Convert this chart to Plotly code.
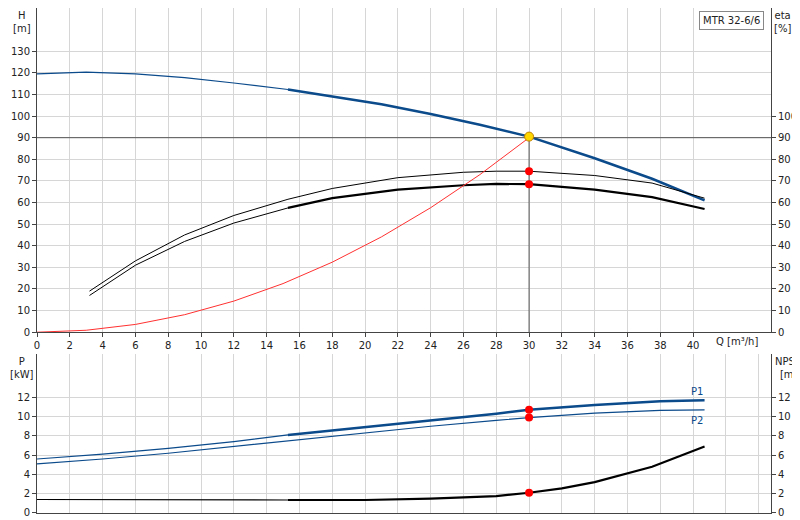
import plotly.graph_objects as go

# head curve
q_h = [0, 3, 6, 9, 12, 15.3, 18, 21, 24, 27, 30, 34, 37.5, 40.7]
head = [119.5, 120.3, 119.5, 117.8, 115.3, 112.3, 109, 105.5, 101, 96, 90.5, 80.5, 71, 61]
# efficiency curves
q_eta = [3.2, 6, 9, 12, 15.3, 18, 22, 26, 28, 30, 34, 37.5, 40.7]
eta_pump = [19, 33, 45, 54, 61.5, 66.5, 71.5, 74, 74.5, 74.5, 72.5, 69, 62]
eta_total = [17, 31, 42, 50.5, 57.5, 62, 66, 68, 68.6, 68.5, 66, 62.5, 57]
# system curve
q_sys = [0, 3, 6, 9, 12, 15, 18, 21, 24, 27, 30]
h_sys = [0, 0.9, 3.6, 8.1, 14.4, 22.5, 32.4, 44.1, 57.6, 72.9, 90]
# power and NPSH
q_p = [0, 4, 8, 12, 15.3, 20, 24, 28, 30, 34, 38, 40.7]
p1 = [5.6, 6.1, 6.7, 7.4, 8.1, 8.9, 9.6, 10.3, 10.7, 11.2, 11.6, 11.7]
p2 = [5.1, 5.6, 6.2, 6.9, 7.5, 8.3, 9.0, 9.6, 9.9, 10.35, 10.65, 10.7]
q_npsh = [0, 15.3, 20, 24, 28, 30, 32, 34, 37.5, 40.7]
npsh = [1.4, 1.35, 1.35, 1.5, 1.75, 2.1, 2.55, 3.2, 4.8, 6.9]
duty_q, duty_h = 30, 90.5

blue = "#0b4a8b"
fig = go.Figure()
fig.add_trace(go.Scatter(x=q_h[:6], y=head[:6], mode="lines", line=dict(color=blue, width=1.2)))
fig.add_trace(go.Scatter(x=q_h[5:], y=head[5:], mode="lines", line=dict(color=blue, width=2.5)))
fig.add_trace(go.Scatter(x=q_eta, y=eta_pump, mode="lines", line=dict(color="black", width=1)))
fig.add_trace(go.Scatter(x=q_eta[:5], y=eta_total[:5], mode="lines", line=dict(color="black", width=1)))
fig.add_trace(go.Scatter(x=q_eta[4:], y=eta_total[4:], mode="lines", line=dict(color="black", width=2.2)))
fig.add_trace(go.Scatter(x=q_sys, y=h_sys, mode="lines", line=dict(color="#ff3030", width=1)))
fig.add_trace(go.Scatter(x=[0, 44.75], y=[90, 90], mode="lines", line=dict(color="#555", width=1)))
fig.add_trace(go.Scatter(x=[duty_q, duty_q], y=[0, 90], mode="lines", line=dict(color="#555", width=1)))
fig.add_trace(go.Scatter(x=[duty_q, duty_q], y=[74.5, 68.5], mode="markers",
                         marker=dict(color="red", size=8)))
fig.add_trace(go.Scatter(x=[duty_q], y=[duty_h], mode="markers",
                         marker=dict(color="#ffd700", size=9, line=dict(color="#c08000", width=1))))

fig.add_trace(go.Scatter(x=q_p[:5], y=p1[:5], mode="lines", line=dict(color=blue, width=1.2), xaxis="x2", yaxis="y2"))
fig.add_trace(go.Scatter(x=q_p[4:], y=p1[4:], mode="lines", line=dict(color=blue, width=2.5), xaxis="x2", yaxis="y2"))
fig.add_trace(go.Scatter(x=q_p, y=p2, mode="lines", line=dict(color=blue, width=1.2), xaxis="x2", yaxis="y2"))
fig.add_trace(go.Scatter(x=q_npsh[:2], y=npsh[:2], mode="lines", line=dict(color="black", width=1.2), xaxis="x2", yaxis="y2"))
fig.add_trace(go.Scatter(x=q_npsh[1:], y=npsh[1:], mode="lines", line=dict(color="black", width=2.2), xaxis="x2", yaxis="y2"))
fig.add_trace(go.Scatter(x=[duty_q] * 3, y=[10.7, 9.9, 2.1], mode="markers",
                         marker=dict(color="red", size=8), xaxis="x2", yaxis="y2"))
# dummy traces for right axes
fig.add_trace(go.Scatter(x=[None], y=[None], yaxis="y3"))
fig.add_trace(go.Scatter(x=[None], y=[None], xaxis="x2", yaxis="y4"))

grid = dict(showgrid=True, gridcolor="#d6d6d6", gridwidth=1, showline=True, linecolor="#444",
            ticks="outside", ticklen=4, tickcolor="#444", zeroline=False, automargin=False)
right = dict(side="right", showline=True, linecolor="#444", ticks="outside", ticklen=4,
             showgrid=False, zeroline=False, automargin=False)
fig.update_layout(
    width=800, height=520, showlegend=False, plot_bgcolor="white", paper_bgcolor="white",
    margin=dict(l=29, r=37, t=0, b=15),
    font=dict(family="DejaVu Sans", size=10, color="#222"),
    xaxis=dict(domain=[0, 1], range=[0, 44.75], tickvals=list(range(0, 41, 2)), anchor="y", **grid),
    yaxis=dict(domain=[0.358, 1], range=[0, 150], tickvals=list(range(0, 140, 10)), **grid),
    yaxis3=dict(overlaying="y", range=[0, 150], tickvals=list(range(0, 110, 10)), anchor="x", **right),
    xaxis2=dict(domain=[0, 1], range=[0, 44.75], dtick=2, anchor="y2", showticklabels=False,
                showgrid=True, gridcolor="#d6d6d6", showline=True, linecolor="#444",
                zeroline=False, automargin=False),
    yaxis2=dict(domain=[0, 0.315], range=[0, 16.5], tickvals=list(range(0, 14, 2)), anchor="x2", **grid),
    yaxis4=dict(overlaying="y2", range=[0, 16.5], tickvals=list(range(0, 14, 2)), anchor="x2", **right),
)

labels = [
    (-0.02, 1.0, "H<br>[m]", "center"),
    (1.015, 1.0, "eta<br>[%]", "center"),
    (-0.02, 0.315, "P<br>[kW]", "center"),
    (1.045, 0.315, "NPSH<br>[m]", "right"),
]
for x, y, t, anchor in labels:
    fig.add_annotation(x=x, y=y, xref="paper", yref="paper", text=t, showarrow=False,
                       xanchor=anchor, yanchor="top")
fig.add_annotation(x=0.985, y=0.358, xref="paper", yref="paper", text="Q [m³/h]", showarrow=False,
                   xanchor="right", yanchor="top", yshift=-2)
fig.add_annotation(x=40.7, y=12.6, xref="x2", yref="y2", text="P1", showarrow=False,
                   font=dict(color=blue), xanchor="right")
fig.add_annotation(x=40.7, y=9.6, xref="x2", yref="y2", text="P2", showarrow=False,
                   font=dict(color=blue), xanchor="right")
fig.add_annotation(x=0.99, y=0.995, xref="paper", yref="paper", text="MTR 32-6/6", showarrow=False,
                   xanchor="right", yanchor="top", bordercolor="#888", borderwidth=1, borderpad=3,
                   bgcolor="white")

fig.write_html("out.html")
